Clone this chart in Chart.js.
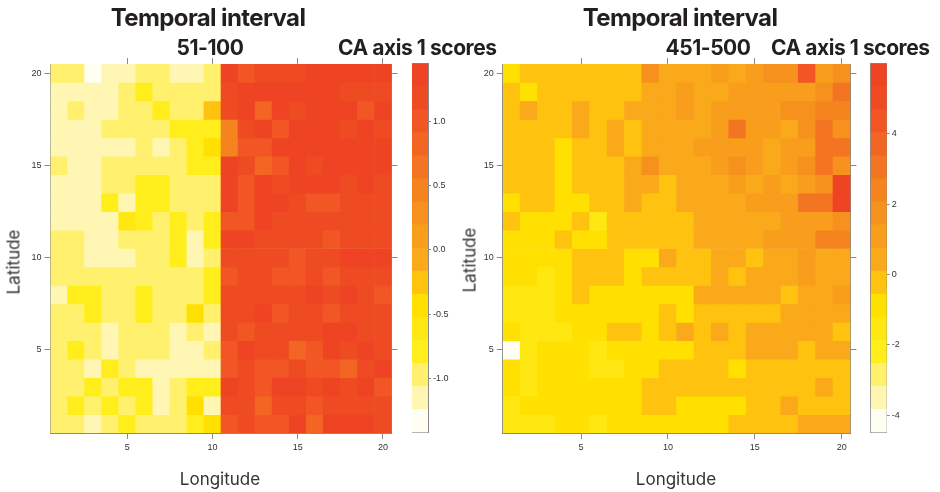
<!DOCTYPE html>
<html>
<head>
<meta charset="utf-8">
<script src="https://cdn.jsdelivr.net/npm/chart.js@4/dist/chart.umd.min.js"></script>
<style>
  html, body { margin: 0; padding: 0; background: #fff; }
  #wrap { position: relative; width: 940px; height: 492px; overflow: hidden;
          font-family: Inter, "Liberation Sans", sans-serif; color: #231f20; }
  canvas { position: absolute; }
  .t { position: absolute; white-space: nowrap; line-height: 1; }
  .title { font-weight: 700; font-size: 24px; letter-spacing: -0.6px; transform: translateX(-50%); }
  .sub { font-weight: 700; font-size: 21px; letter-spacing: -0.45px; }
  .mid { transform: translateX(-50%); }
  .axt { font-weight: 400; font-size: 17px; color: #333; }
  .rot { transform: translate(-50%, -50%) rotate(-90deg); }
</style>
</head>
<body>
<div id="wrap">
  <canvas id="mapA" width="400" height="470" style="left:0;top:0"></canvas>
  <canvas id="keyA" width="62" height="470" style="left:400px;top:0"></canvas>
  <canvas id="mapB" width="398" height="470" style="left:462px;top:0"></canvas>
  <canvas id="keyB" width="80" height="470" style="left:860px;top:0"></canvas>

  <div class="t title" style="left:208px;top:6px">Temporal interval</div>
  <div class="t sub mid" style="left:210px;top:37px">51-100</div>
  <div class="t sub" style="left:338px;top:37px">CA axis 1 scores</div>

  <div class="t title" style="left:680px;top:6px">Temporal interval</div>
  <div class="t sub mid" style="left:708px;top:37px">451-500</div>
  <div class="t sub" style="left:771px;top:37px">CA axis 1 scores</div>

  <div class="t axt rot" style="left:14px;top:262px">Latitude</div>
  <div class="t axt rot" style="left:470px;top:260px">Latitude</div>
  <div class="t axt mid" style="left:220px;top:471px">Longitude</div>
  <div class="t axt mid" style="left:676px;top:471px">Longitude</div>
</div>

<script>
// Grid coordinates and axis ticks
const longitudes = [1,2,3,4,5,6,7,8,9,10,11,12,13,14,15,16,17,18,19,20];
const latitudes = [20,19,18,17,16,15,14,13,12,11,10,9,8,7,6,5,4,3,2,1];
const xTickValues = [5,10,15,20];
const yTickValues = [5,10,15,20];

// Colour key: 16 bands from low (pale) to high (red)
const keyColors = ['#fffef2','#fff6b3','#fff16e','#ffee1c','#ffe811','#ffe000','#ffc20e','#faa91a',
                   '#f89d1c','#f7911e','#f5841f','#f37421','#f26522','#f15624','#ef4b23','#ee4423'];

// CA axis 1 scores, temporal interval 51-100 (one row per latitude, longitude 1..20)
const t51_lat20 = [-0.97,-0.97,-1.33,-1.15,-1.15,-0.97,-0.97,-1.15,-1.15,-0.97, 1.35,0.99,1.17,1.17,1.17,1.35,1.35,1.35,1.35,1.35];
const t51_lat19 = [-1.15,-1.15,-1.15,-1.15,-0.97,-0.79,-0.97,-0.97,-0.97,-0.97, 1.17,1.35,1.35,1.35,1.35,1.35,1.35,1.17,1.17,1.17];
const t51_lat18 = [-1.15,-0.97,-1.15,-1.15,-0.97,-0.97,-0.79,-0.97,-0.97,-0.26, 1.17,1.35,0.81,1.35,1.17,1.35,1.35,1.35,0.99,1.35];
const t51_lat17 = [-1.15,-1.15,-1.15,-0.97,-0.97,-0.97,-0.97,-0.79,-0.79,-0.79, 0.46,1.17,1.35,0.99,1.35,1.35,1.35,1.17,1.35,1.17];
const t51_lat16 = [-1.15,-1.15,-1.15,-1.15,-1.15,-0.97,-1.15,-0.97,-0.79,-0.44, 0.46,0.99,0.99,1.35,1.35,1.35,1.35,1.35,1.35,1.35];
const t51_lat15 = [-0.97,-1.15,-1.15,-0.97,-0.97,-0.97,-0.97,-0.97,-0.79,-0.79, 1.35,1.17,0.81,0.99,1.35,1.17,1.35,1.35,1.35,1.35];
const t51_lat14 = [-1.15,-1.15,-1.15,-0.97,-0.97,-0.79,-0.79,-0.97,-0.97,-0.97, 1.35,0.99,1.35,1.17,1.35,1.35,1.35,1.17,1.35,1.17];
const t51_lat13 = [-1.15,-1.15,-1.15,-0.79,-1.15,-0.79,-0.79,-0.97,-0.97,-0.97, 1.35,0.99,1.35,1.35,1.17,0.99,0.99,1.17,1.17,1.17];
const t51_lat12 = [-1.15,-1.15,-1.15,-1.15,-0.61,-0.79,-0.97,-0.79,-0.97,-0.79, 0.99,0.99,1.35,1.17,1.17,1.17,1.17,1.17,1.17,1.17];
const t51_lat11 = [-0.97,-0.97,-1.15,-1.15,-0.97,-0.97,-0.97,-0.79,-1.15,-0.79, 1.35,1.35,1.17,1.17,1.17,1.17,0.99,1.17,1.17,1.17];
const t51_lat10 = [-0.97,-0.97,-1.15,-1.15,-1.15,-0.97,-0.97,-0.79,-1.15,-0.97, 1.17,1.17,1.17,1.17,0.99,1.17,1.17,1.35,1.35,1.35];
const t51_lat9  = [-0.97,-0.97,-0.97,-0.97,-0.97,-0.97,-0.97,-0.97,-0.97,-0.79, 0.99,1.17,1.17,0.99,0.99,1.17,0.99,1.17,1.17,1.17];
const t51_lat8  = [-1.15,-0.79,-0.79,-0.97,-0.97,-0.79,-0.97,-0.97,-0.97,-0.79, 1.17,1.17,1.17,1.17,1.17,1.35,1.17,1.35,1.17,0.99];
const t51_lat7  = [-0.97,-0.97,-0.79,-0.97,-0.97,-0.79,-0.97,-0.97,-0.44,-0.97, 1.17,1.17,1.35,0.99,1.17,1.17,0.99,1.17,1.17,1.17];
const t51_lat6  = [-0.97,-0.97,-0.97,-1.15,-0.97,-0.97,-0.97,-1.15,-0.97,-1.15, 1.17,0.99,1.17,1.17,1.17,1.17,1.35,1.35,1.17,1.17];
const t51_lat5  = [-0.97,-0.79,-0.97,-1.15,-0.97,-0.97,-0.97,-1.15,-1.15,-0.97, 0.99,1.35,1.17,1.17,0.81,0.99,1.35,1.17,1.35,1.17];
const t51_lat4  = [-0.97,-0.97,-1.15,-0.79,-0.97,-1.15,-1.15,-1.15,-1.15,-1.15, 0.99,1.17,0.99,0.99,1.17,0.99,0.99,0.81,1.17,1.35];
const t51_lat3  = [-0.97,-0.97,-0.79,-0.97,-0.79,-0.79,-1.15,-0.97,-0.79,-0.79, 1.35,1.17,0.99,1.35,1.35,1.17,1.35,1.17,1.35,0.99];
const t51_lat2  = [-0.97,-0.79,-0.97,-0.79,-0.97,-0.79,-1.15,-0.97,-0.44,-1.15, 1.17,1.17,0.81,1.17,1.17,0.99,1.17,1.17,1.17,1.17];
const t51_lat1  = [-0.97,-0.97,-1.15,-0.97,-0.79,-0.97,-0.97,-0.97,-0.79,-0.44, 0.99,1.17,0.99,0.99,1.35,0.81,1.35,1.35,1.35,1.17];

// CA axis 1 scores, temporal interval 451-500
const t451_lat20 = [-0.88,-0.23,-0.23,-0.23,-0.23,-0.23,-0.23,-0.23,1.74,0.43, 0.43,0.43,1.09,0.43,1.09,1.74,1.74,4.37,1.09,1.74];
const t451_lat19 = [-0.23,-0.88,-0.23,-0.23,-0.23,-0.23,-0.23,-0.23,0.43,0.43, 1.09,0.43,0.43,1.09,1.09,1.09,1.09,1.09,1.74,3.05];
const t451_lat18 = [-0.23,0.43,-0.23,-0.23,0.43,-0.23,-0.23,0.43,0.43,0.43, 1.09,0.43,1.09,1.09,1.09,1.09,1.74,1.74,2.40,2.40];
const t451_lat17 = [-0.23,-0.23,-0.23,-0.23,0.43,-0.23,0.43,-0.23,0.43,0.43, 0.43,0.43,1.09,3.05,1.09,1.09,0.43,1.74,3.05,1.74];
const t451_lat16 = [-0.23,-0.23,-0.23,-0.88,-0.23,-0.23,0.43,-0.23,0.43,0.43, 0.43,1.09,1.09,1.09,1.09,0.43,1.09,1.09,3.05,3.05];
const t451_lat15 = [-0.23,-0.23,-0.23,-0.88,-0.23,-0.23,-0.23,0.43,1.74,0.43, 0.43,0.43,1.09,1.74,1.09,0.43,1.09,1.74,3.05,1.74];
const t451_lat14 = [-0.23,-0.23,-0.23,-0.88,-0.23,-0.23,-0.23,0.43,0.43,-0.23, 0.43,0.43,0.43,1.09,0.43,1.09,0.43,1.09,1.74,5.68];
const t451_lat13 = [-0.88,-0.23,-0.23,-0.88,-0.88,-0.23,-0.23,0.43,-0.23,-0.23, 0.43,0.43,0.43,0.43,1.09,1.09,1.09,3.05,3.05,5.68];
const t451_lat12 = [-0.23,-0.88,-0.88,-0.88,-0.23,-1.54,-0.23,-0.23,-0.23,-0.23, -0.23,0.43,0.43,0.43,0.43,0.43,1.09,1.09,1.09,1.74];
const t451_lat11 = [-0.88,-0.88,-0.88,-0.23,-0.88,-0.88,-0.23,-0.23,-0.23,-0.23, -0.23,0.43,0.43,0.43,0.43,1.09,1.09,1.09,2.40,2.40];
const t451_lat10 = [-0.88,-0.88,-0.88,-0.88,-0.23,-0.23,-0.23,-0.88,-0.88,0.43, -0.23,-0.23,0.43,0.43,-0.23,0.43,0.43,1.09,0.43,0.43];
const t451_lat9  = [-0.88,-0.88,-1.54,-0.88,-0.23,-0.23,-0.23,-0.88,-0.23,-0.23, -0.23,-0.23,0.43,-0.23,0.43,0.43,0.43,1.09,0.43,0.43];
const t451_lat8  = [-1.54,-1.54,-1.54,-0.88,-0.23,-0.88,-0.88,-0.88,-0.88,-0.88, -0.88,0.43,0.43,0.43,0.43,0.43,-0.23,0.43,0.43,1.09];
const t451_lat7  = [-1.54,-1.54,-1.54,-0.88,-0.88,-0.88,-0.88,-0.88,-0.88,-0.23, -0.88,-0.23,-0.23,-0.23,-0.23,-0.23,0.43,0.43,0.43,0.43];
const t451_lat6  = [-0.88,-1.54,-1.54,-1.54,-0.88,-0.88,-0.23,-0.23,-0.88,-0.23, 0.43,-0.23,0.43,-0.23,0.43,0.43,0.43,0.43,0.43,-0.23];
const t451_lat5  = [-4.16,-1.54,-0.88,-0.88,-0.88,-1.54,-0.88,-0.88,-0.88,-0.88, -0.88,-0.23,-0.23,-0.23,0.43,0.43,0.43,-0.23,0.43,0.43];
const t451_lat4  = [-0.88,-1.54,-0.88,-0.88,-0.88,-1.54,-1.54,-0.88,-0.88,-0.23, -0.23,-0.23,-0.23,-0.88,-0.23,-0.23,-0.23,-0.23,-0.23,-0.23];
const t451_lat3  = [-0.88,-1.54,-0.88,-0.88,-0.88,-0.88,-0.88,-0.88,-0.23,-0.23, -0.23,-0.23,-0.23,-0.23,-0.23,-0.23,-0.23,-0.23,0.43,-0.23];
const t451_lat2  = [-1.54,-0.88,-0.88,-0.88,-0.88,-0.88,-0.88,-0.88,-0.23,-0.23, -0.88,-0.88,-0.88,-0.88,-0.23,-0.23,0.43,-0.23,-0.23,-0.23];
const t451_lat1  = [-1.54,-1.54,-1.54,-0.88,-0.88,-1.54,-0.88,-0.88,-0.88,-0.88, -0.88,-0.88,-0.88,-0.23,-0.23,-0.23,-0.23,0.43,0.43,0.43];

// Range of each colour key and its labelled ticks
const keyRangeA = [-1.42, 1.45];
const keyRangeB = [-4.49, 6.0];
const keyTicksA = [-1.0, -0.5, 0.0, 0.5, 1.0];
const keyTicksB = [-4, -2, 0, 2, 4];

const rowsA = [t51_lat20,t51_lat19,t51_lat18,t51_lat17,t51_lat16,t51_lat15,t51_lat14,t51_lat13,t51_lat12,t51_lat11,
               t51_lat10,t51_lat9,t51_lat8,t51_lat7,t51_lat6,t51_lat5,t51_lat4,t51_lat3,t51_lat2,t51_lat1];
const rowsB = [t451_lat20,t451_lat19,t451_lat18,t451_lat17,t451_lat16,t451_lat15,t451_lat14,t451_lat13,t451_lat12,t451_lat11,
               t451_lat10,t451_lat9,t451_lat8,t451_lat7,t451_lat6,t451_lat5,t451_lat4,t451_lat3,t451_lat2,t451_lat1];

const FRAME = '#8a8a8a';
const TICK_FONT = { family: '"Liberation Sans", Arial, sans-serif', size: 9 };
const TICK_COLOR = '#333';

function bandColor(v, range) {
  const n = keyColors.length;
  const step = (range[1] - range[0]) / n;
  let k = Math.floor((v - range[0]) / step);
  k = Math.max(0, Math.min(n - 1, k));
  return keyColors[k];
}

const setWidth = w => s => { s.width = w; };
const setHeight = h => s => { s.height = h; };
const fixedTicks = vals => s => { s.ticks = vals.map(v => ({ value: v })); };

const baseOptions = {
  responsive: false,
  animation: false,
  events: [],
  layout: { padding: 0 },
  plugins: { legend: { display: false }, tooltip: { enabled: false } }
};

// Level plot: one dataset of floating bars per latitude row
function levelPlot(id, rows, range, g) {
  const datasets = rows.map((vals, r) => {
    const lat = latitudes[r];
    return {
      data: vals.map((v, i) => ({ x: longitudes[i], y: [lat - 0.5, lat + 0.5] })),
      backgroundColor: vals.map(v => bandColor(v, range)),
      borderWidth: 0,
      grouped: false,
      barPercentage: 1,
      categoryPercentage: 1
    };
  });
  const axis = (pos, labels, ticksArr, fit) => ({
    type: 'linear', position: pos, min: 0.5, max: 20.5, offset: false, z: 1,
    afterBuildTicks: fixedTicks(ticksArr),
    ticks: { display: labels, font: TICK_FONT, color: TICK_COLOR, padding: 3, maxRotation: 0, autoSkip: false },
    grid: { display: true, drawOnChartArea: false, offset: false, tickLength: 6, tickColor: FRAME, tickWidth: 1 },
    border: { display: true, color: FRAME, width: 1 },
    afterFit: fit
  });
  return new Chart(document.getElementById(id), {
    type: 'bar',
    data: { datasets },
    options: Object.assign({}, baseOptions, {
      scales: {
        x: axis('bottom', true, xTickValues, setHeight(g.bottom)),
        x2: axis('top', false, xTickValues, setHeight(g.top)),
        y: axis('left', true, yTickValues, setWidth(g.left)),
        y2: axis('right', false, yTickValues, setWidth(g.right))
      }
    })
  });
}

// Colour key: one floating bar per band
function colorKey(id, range, ticksArr, fmt, g) {
  const n = keyColors.length;
  const step = (range[1] - range[0]) / n;
  const datasets = keyColors.map((c, k) => ({
    data: [[range[0] + k * step, range[0] + (k + 1) * step]],
    backgroundColor: c, borderWidth: 0, grouped: false,
    barPercentage: 1, categoryPercentage: 1
  }));
  const plain = (pos, fit) => ({
    display: true, position: pos, z: 1,
    ticks: { display: false },
    grid: { display: false },
    border: { display: true, color: FRAME, width: 1 },
    afterFit: fit
  });
  return new Chart(document.getElementById(id), {
    type: 'bar',
    data: { labels: [''], datasets },
    options: Object.assign({}, baseOptions, {
      scales: {
        x: Object.assign(plain('bottom', setHeight(g.bottom)), { type: 'category' }),
        x2: Object.assign(plain('top', setHeight(g.top)), { type: 'category', labels: [''] }),
        y2: Object.assign(plain('left', setWidth(g.left)), { type: 'linear', min: range[0], max: range[1] }),
        y: {
          type: 'linear', position: 'right', min: range[0], max: range[1], z: 1,
          afterBuildTicks: fixedTicks(ticksArr),
          ticks: { font: TICK_FONT, color: TICK_COLOR, padding: 2, autoSkip: false, callback: v => fmt(v) },
          grid: { display: true, drawOnChartArea: false, tickLength: 3, tickColor: FRAME },
          border: { display: true, color: FRAME, width: 1 },
          afterFit: setWidth(g.right)
        }
      }
    })
  });
}

levelPlot('mapA', rowsA, keyRangeA, { left: 50.5, right: 8.5, top: 64, bottom: 37 });
colorKey('keyA', keyRangeA, keyTicksA, v => v.toFixed(1), { left: 12, right: 34, top: 63.5, bottom: 37.5 });
levelPlot('mapB', rowsB, keyRangeB, { left: 40.8, right: 9.6, top: 64, bottom: 37 });
colorKey('keyB', keyRangeB, keyTicksB, v => String(v), { left: 10.7, right: 53.3, top: 63.5, bottom: 37.5 });
</script>
</body>
</html>
